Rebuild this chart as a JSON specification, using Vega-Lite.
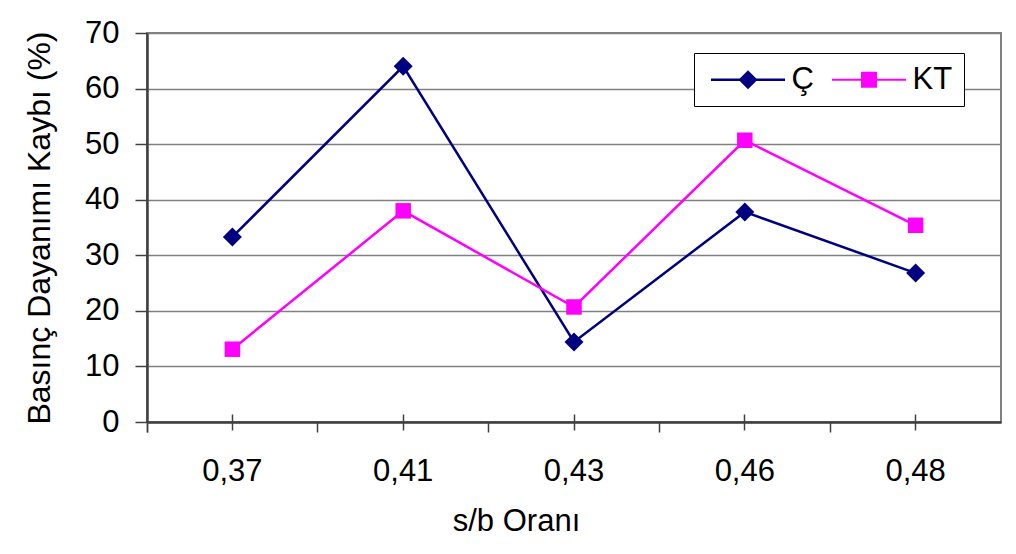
{
  "$schema": "https://vega.github.io/schema/vega-lite/v6.json",
  "width": 854,
  "height": 389,
  "autosize": "none",
  "padding": {"left": 147, "top": 33, "right": 15, "bottom": 132},
  "background": "white",
  "config": {
    "font": "Liberation Sans",
    "view": {"stroke": "#808080", "strokeWidth": 2},
    "axis": {"labelColor": "black", "titleColor": "black", "labelFont": "Liberation Sans", "titleFont": "Liberation Sans", "titleFontWeight": "normal"}
  },
  "data": {
    "values": [
      {"sb": "0,37", "s": "Ç", "v": 33.3},
      {"sb": "0,41", "s": "Ç", "v": 64.0},
      {"sb": "0,43", "s": "Ç", "v": 14.4},
      {"sb": "0,46", "s": "Ç", "v": 37.8},
      {"sb": "0,48", "s": "Ç", "v": 26.8},
      {"sb": "0,37", "s": "KT", "v": 13.1},
      {"sb": "0,41", "s": "KT", "v": 38.0},
      {"sb": "0,43", "s": "KT", "v": 20.7},
      {"sb": "0,46", "s": "KT", "v": 50.7},
      {"sb": "0,48", "s": "KT", "v": 35.4}
    ]
  },
  "resolve": {"axis": {"x": "independent"}},
  "layer": [
    {
      "mark": {"type": "line", "strokeWidth": 2.5},
      "encoding": {
        "x": {
          "field": "sb", "type": "ordinal", "bandPosition": 0.5,
          "scale": {"type": "band", "paddingInner": 0, "paddingOuter": 0},
          "axis": {
            "orient": "bottom",
            "title": "s/b Oranı", "titleFontSize": 31, "titleX": 369, "titleAnchor": "middle", "titlePadding": 20,
            "labelFontSize": 31, "labelAngle": 0, "labelPadding": 24,
            "bandPosition": 0, "tickExtra": true,
            "tickSize": 10, "tickColor": "#404040", "tickWidth": 1.5,
            "domainColor": "#404040", "domainWidth": 2.5, "grid": false
          }
        },
        "y": {
          "field": "v", "type": "quantitative",
          "scale": {"domain": [0, 70]},
          "axis": {
            "values": [0, 10, 20, 30, 40, 50, 60, 70],
            "title": "Basınç Dayanımı Kaybı (%)", "titleFontSize": 32, "titlePadding": 28,
            "labelFontSize": 31, "labelPadding": 16, "tickSize": 12, "tickColor": "#404040", "tickWidth": 1.5,
            "domainColor": "#404040", "domainWidth": 2.5,
            "grid": true, "gridColor": "#808080", "gridWidth": 1.5
          }
        },
        "color": {
          "field": "s", "type": "nominal",
          "scale": {"domain": ["Ç", "KT"], "range": ["#000080", "#FF00FF"]}
        }
      }
    },
    {
      "transform": [{"filter": "datum.s === 'Ç'"}],
      "mark": {"type": "point", "shape": "diamond", "filled": true, "opacity": 1, "size": 361, "color": "#000080"},
      "encoding": {
        "x": {
          "field": "sb", "type": "ordinal", "bandPosition": 0.5,
          "axis": {"orient": "bottom", "title": null, "labels": false, "domain": false, "grid": false, "tickSize": 16, "offset": -8, "tickColor": "#404040", "tickWidth": 1.5}
        },
        "y": {"field": "v", "type": "quantitative"}
      }
    },
    {
      "transform": [{"filter": "datum.s === 'KT'"}],
      "mark": {"type": "point", "shape": "square", "filled": true, "opacity": 1, "size": 240, "color": "#FF00FF"},
      "encoding": {
        "x": {"field": "sb", "type": "ordinal", "bandPosition": 0.5, "axis": null},
        "y": {"field": "v", "type": "quantitative"}
      }
    },
    {
      "transform": [{"filter": "false"}],
      "mark": {"type": "point", "filled": true, "opacity": 1},
      "encoding": {
        "x": {"field": "sb", "type": "ordinal", "bandPosition": 0.5, "axis": null},
        "y": {"field": "v", "type": "quantitative"},
        "color": {
          "field": "s", "type": "nominal",
          "legend": {
            "orient": "none", "legendX": 547, "legendY": 20, "direction": "horizontal",
            "title": null, "strokeColor": "black", "fillColor": "white", "padding": 11,
            "labelFontSize": 31, "labelColor": "black", "labelFont": "Liberation Sans",
            "symbolSize": 361, "symbolOpacity": 1, "symbolStrokeWidth": 0,
            "symbolOffset": 27.5, "labelOffset": 28, "columnPadding": 12
          }
        },
        "shape": {
          "field": "s", "type": "nominal",
          "scale": {
            "domain": ["Ç", "KT"],
            "range": [
              "M-3.9,-0.13L3.9,-0.13L3.9,0.13L-3.9,0.13ZM0,-1L1,0L0,1L-1,0Z",
              "M-3.9,-0.11L3.9,-0.11L3.9,0.11L-3.9,0.11ZM-0.84,-0.84L0.84,-0.84L0.84,0.84L-0.84,0.84Z"
            ]
          }
        }
      }
    }
  ]
}
